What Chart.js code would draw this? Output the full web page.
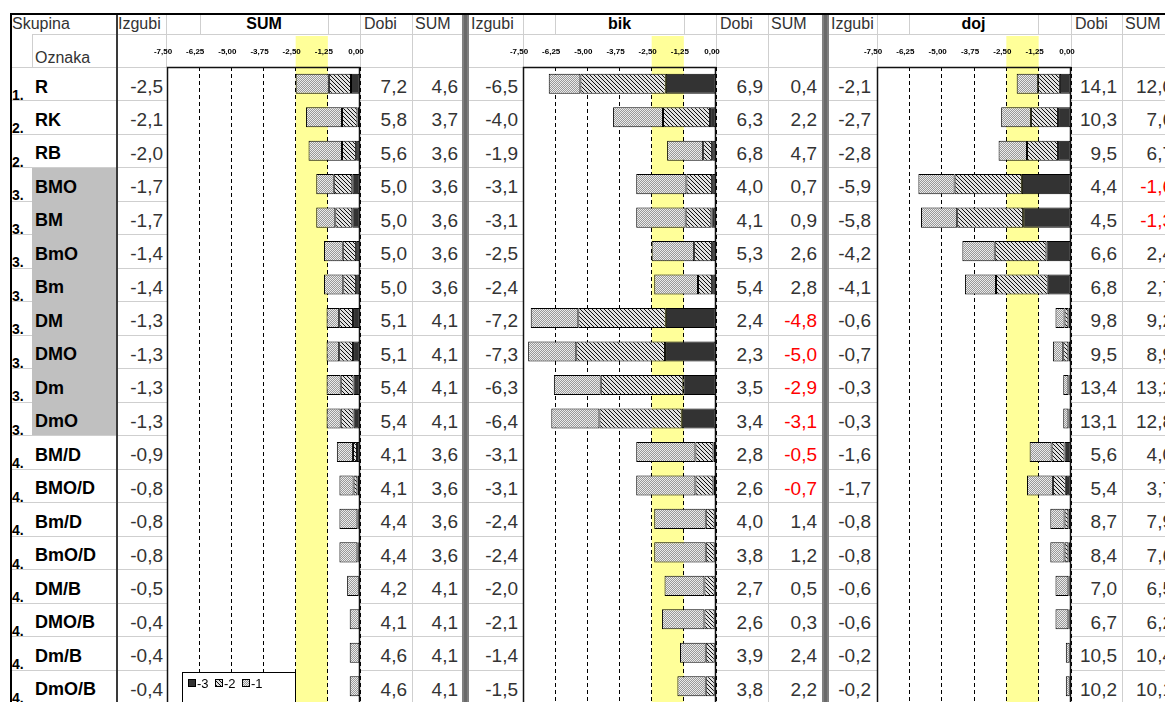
<!DOCTYPE html>
<html>
<head>
<meta charset="utf-8">
<script src="https://cdn.jsdelivr.net/npm/chart.js@4.4.1/dist/chart.umd.min.js"></script>
<style>
body { margin: 0; background: #fff; }
#page { position: relative; width: 1165px; height: 702px; overflow: hidden; font-family: "Liberation Sans", Arial, sans-serif; }
.ln { position: absolute; background: #cfcfcf; }
.t { position: absolute; white-space: nowrap; line-height: 1; color: #333; }
.box { position: absolute; }
</style>
</head>
<body>
<div id="page"></div>
<script>
// ---- data ----
const groups = ['1.','2.','2.','3.','3.','3.','3.','3.','3.','3.','3.','4.','4.','4.','4.','4.','4.','4.','4.'];
const labels = ['R','RK','RB','BMO','BM','BmO','Bm','DM','DMO','Dm','DmO','BM/D','BMO/D','Bm/D','BmO/D','DM/B','DMO/B','Dm/B','DmO/B'];
const panelTitles = ['SUM', 'bik', 'doj'];
const legendLabels = ['-3', '-2', '-1'];
const tickLabels = ['-7,50','-6,25','-5,00','-3,75','-2,50','-1,25','0,00'];
const bandFrom = -2.5;
const bandTo = -1.25;

// SUM
const sumIzgubi = [-2.5,-2.1,-2.0,-1.7,-1.7,-1.4,-1.4,-1.3,-1.3,-1.3,-1.3,-0.9,-0.8,-0.8,-0.8,-0.5,-0.4,-0.4,-0.4];
const sumDobi   = [7.2,5.8,5.6,5.0,5.0,5.0,5.0,5.1,5.1,5.4,5.4,4.1,4.1,4.4,4.4,4.2,4.1,4.6,4.6];
const sumSum    = [4.6,3.7,3.6,3.6,3.6,3.6,3.6,4.1,4.1,4.1,4.1,3.6,3.6,3.6,3.6,4.1,4.1,4.1,4.1];
const sumL3 = [-0.35,-0.1,-0.15,-0.3,-0.3,-0.15,-0.15,-0.27,-0.27,-0.25,-0.25,-0.12,-0.1,-0.05,-0.05,-0.02,-0.01,-0.01,-0.01];
const sumL2 = [-0.86,-0.6,-0.55,-0.72,-0.66,-0.52,-0.5,-0.54,-0.54,-0.5,-0.5,-0.15,-0.15,-0.05,-0.05,-0.03,-0.01,-0.01,-0.01];
const sumL1 = [-1.29,-1.4,-1.3,-0.68,-0.74,-0.73,-0.75,-0.49,-0.49,-0.55,-0.55,-0.63,-0.55,-0.7,-0.7,-0.45,-0.38,-0.38,-0.38];

// bik
const bikIzgubi = [-6.5,-4.0,-1.9,-3.1,-3.1,-2.5,-2.4,-7.2,-7.3,-6.3,-6.4,-3.1,-3.1,-2.4,-2.4,-2.0,-2.1,-1.4,-1.5];
const bikDobi   = [6.9,6.3,6.8,4.0,4.1,5.3,5.4,2.4,2.3,3.5,3.4,2.8,2.6,4.0,3.8,2.7,2.6,3.9,3.8];
const bikSum    = [0.4,2.2,4.7,0.7,0.9,2.6,2.8,-4.8,-5.0,-2.9,-3.1,-0.5,-0.7,1.4,1.2,0.5,0.3,2.4,2.2];
const bikL3 = [-1.95,-0.23,-0.15,-0.15,-0.18,-0.15,-0.15,-1.95,-1.98,-1.27,-1.33,-0.1,-0.1,-0.05,-0.05,-0.05,-0.05,-0.05,-0.05];
const bikL2 = [-3.32,-1.83,-0.35,-1.0,-1.0,-0.7,-0.55,-3.4,-3.45,-3.21,-3.2,-0.7,-0.7,-0.35,-0.35,-0.4,-0.4,-0.35,-0.35];
const bikL1 = [-1.23,-1.94,-1.4,-1.95,-1.92,-1.65,-1.7,-1.85,-1.87,-1.82,-1.87,-2.3,-2.3,-2.0,-2.0,-1.55,-1.65,-1.0,-1.1];

// doj
const dojIzgubi = [-2.1,-2.7,-2.8,-5.9,-5.8,-4.2,-4.1,-0.6,-0.7,-0.3,-0.3,-1.6,-1.7,-0.8,-0.8,-0.6,-0.6,-0.2,-0.2];
const dojDobi   = [14.1,10.3,9.5,4.4,4.5,6.6,6.8,9.8,9.5,13.4,13.1,5.6,5.4,8.7,8.4,7.0,6.7,10.5,10.2];
const dojSum    = [12.0,7.6,6.7,-1.6,-1.3,2.4,2.7,9.2,8.9,13.2,12.8,4.0,3.7,7.9,7.6,6.5,6.2,10.4,10.1];
const dojL3 = [-0.43,-0.5,-0.5,-1.9,-1.85,-0.95,-0.9,-0.1,-0.1,-0.05,-0.05,-0.25,-0.2,-0.1,-0.1,-0.05,-0.05,-0.02,-0.02];
const dojL2 = [-0.84,-1.05,-1.2,-2.6,-2.55,-2.0,-2.0,-0.15,-0.2,-0.05,-0.05,-0.5,-0.5,-0.15,-0.15,-0.05,-0.05,-0.03,-0.03];
const dojL1 = [-0.83,-1.15,-1.1,-1.4,-1.4,-1.25,-1.2,-0.35,-0.4,-0.2,-0.2,-0.85,-1.0,-0.55,-0.55,-0.5,-0.5,-0.15,-0.15];

// ---- layout ----
const page = document.getElementById('page');
const TOP = 67;
const RH = 636 / 19;
const W = 1165, H = 702;

const panels = [
    { title: panelTitles[0], izg: sumIzgubi, dobi: sumDobi, sum: sumSum, l3: sumL3, l2: sumL2, l1: sumL1,
      chL: 167, chR: 360, izR: 163, dobR: 412, sumR: 463, hdr: [166, 200, 328, 360], legend: true },
    { title: panelTitles[1], izg: bikIzgubi, dobi: bikDobi, sum: bikSum, l3: bikL3, l2: bikL2, l1: bikL1,
      chL: 523, chR: 716, izR: 518, dobR: 768, sumR: 822, hdr: [523, 555, 684, 716] },
    { title: panelTitles[2], izg: dojIzgubi, dobi: dojDobi, sum: dojSum, l3: dojL3, l2: dojL2, l1: dojL1,
      chL: 877, chR: 1071, izR: 871, dobR: 1122, sumR: 1178, hdr: [877, 909, 1038, 1071] }
];
const izgL = [116, 469, 829];
const seps = [462, 822];

function box(x, y, w, h, color, cls) {
    const d = document.createElement('div');
    d.className = cls || 'box';
    d.style.left = x + 'px'; d.style.top = y + 'px';
    d.style.width = w + 'px'; d.style.height = h + 'px';
    if (color) d.style.background = color;
    page.appendChild(d);
    return d;
}
function txt(x, y, s, css, rightW) {
    const d = document.createElement('div');
    d.className = 't';
    d.style.top = y + 'px';
    if (rightW) { d.style.left = (x - rightW) + 'px'; d.style.width = rightW + 'px'; d.style.textAlign = 'right'; }
    else d.style.left = x + 'px';
    d.textContent = s;
    Object.assign(d.style, css || {});
    page.appendChild(d);
    return d;
}
const fmt = v => v.toFixed(1).replace('.', ',');

// horizontal light lines
box(32, 34, W - 32, 1, null, 'ln');
for (let i = 0; i <= 19; i++) {
    box(12, Math.round(TOP + i * RH), W - 12, 1, null, 'ln');
}
// gray label cells for group 3
const g3 = groups.map((g, i) => g === '3.' ? i : -1).filter(i => i >= 0);
box(32, TOP + g3[0] * RH + 1, 84, (g3[g3.length - 1] - g3[0] + 1) * RH - 1, '#c0c0c0');

// vertical lines
box(32, 34, 1, 33, null, 'ln');
panels.forEach((p, k) => {
    box(p.hdr[0], 14, 1, 53, null, 'ln');
    box(p.hdr[1], 14, 1, 20, null, 'ln');
    box(p.hdr[2], 14, 1, 20, null, 'ln');
    box(p.hdr[3], 14, 1, 53, null, 'ln');
    box(p.dobR, 14, 1, H, null, 'ln');
});
seps.forEach(x => { box(x, 14, 7, H, '#808080'); box(x + 2, 14, 3, H, '#6a6a6a'); });
box(116, 14, 2, H, '#3a3a3a');
box(10, 13, 2, H, '#000');
box(10, 13, W, 2, '#000');

// header text
txt(12, 16, 'Skupina', { fontSize: '16px' });
txt(35, 49.5, 'Oznaka', { fontSize: '16px' });
panels.forEach((p, k) => {
    txt(izgL[k] + 2, 16, 'Izgubi', { fontSize: '16px' });
    const t = txt(p.hdr[1], 16, p.title, { fontSize: '16px', fontWeight: 'bold', color: '#000', textAlign: 'center' });
    t.style.width = (p.hdr[2] - p.hdr[1]) + 'px';
    txt(p.hdr[3] + 4, 16, 'Dobi', { fontSize: '16px' });
    txt(p.dobR + 3, 16, 'SUM', { fontSize: '16px' });
});

// rows
labels.forEach((lab, i) => {
    const y0 = TOP + i * RH;
    txt(12, y0 + 21, groups[i], { fontSize: '14px', fontWeight: 'bold', color: '#000' });
    txt(35, y0 + 10.5, lab, { fontSize: '18px', fontWeight: 'bold', color: '#000' });
    panels.forEach(p => {
        txt(p.izR, y0 + 10, fmt(p.izg[i]), { fontSize: '19px' }, 60);
        txt(p.dobR - 5, y0 + 10, fmt(p.dobi[i]), { fontSize: '19px' }, 50);
        txt(p.sumR - 5, y0 + 10, fmt(p.sum[i]), { fontSize: '19px', color: p.sum[i] < 0 ? '#ff0000' : '#333' }, 55);
    });
});

// ---- patterns ----
function makePattern(size, draw) {
    const c = document.createElement('canvas');
    c.width = size; c.height = size;
    draw(c.getContext('2d'));
    return c.getContext('2d').createPattern(c, 'repeat');
}
const darkFill = '#333333';
const hatchFill = makePattern(4, g => {
    g.fillStyle = '#e0e0e0'; g.fillRect(0, 0, 4, 4);
    g.fillStyle = '#111';
    for (let i = 0; i < 4; i++) g.fillRect(i, i, 1, 1);
});
const dotFill = makePattern(2, g => {
    g.fillStyle = '#ebebeb'; g.fillRect(0, 0, 2, 2);
    g.fillStyle = '#999';
    g.fillRect(0, 0, 1, 1); g.fillRect(1, 1, 1, 1);
});
const fills = [darkFill, hatchFill, dotFill];

// ---- plugins ----
const bandPlugin = {
    id: 'band',
    beforeDraw(chart) {
        const { ctx, chartArea: a, scales: { x } } = chart;
        ctx.save();
        ctx.fillStyle = '#fff';
        ctx.fillRect(a.left, a.top, a.right - a.left, a.bottom - a.top);
        const x1 = x.getPixelForValue(bandFrom), x2 = x.getPixelForValue(bandTo);
        ctx.fillStyle = '#ffff99';
        ctx.fillRect(x1, 1, x2 - x1, a.bottom);
        ctx.restore();
    },
    afterDatasetsDraw(chart) {
        const { ctx, chartArea: a } = chart;
        ctx.save();
        ctx.strokeStyle = '#111';
        ctx.lineWidth = 1.5;
        ctx.strokeRect(a.left + 0.5, a.top + 0.5, a.right - a.left - 1, a.bottom - a.top + 10);
        ctx.restore();
    }
};

const legendPlugin = {
    id: 'boxLegend',
    afterDraw(chart) {
        if (!chart.options.plugins.boxLegend.show) return;
        const { ctx, chartArea: a } = chart;
        const bx = a.left + 15, by = a.bottom - 31;
        ctx.save();
        ctx.fillStyle = '#fff';
        ctx.fillRect(bx, by, 113, 40);
        ctx.strokeStyle = '#000';
        ctx.lineWidth = 1;
        ctx.strokeRect(bx + 0.5, by + 0.5, 113, 40);
        ctx.font = '13px "Liberation Sans", Arial, sans-serif';
        ctx.textBaseline = 'middle';
        let x = bx + 6;
        chart.data.datasets.forEach(ds => {
            ctx.fillStyle = ds.backgroundColor;
            ctx.fillRect(x, by + 7, 8, 8);
            ctx.strokeRect(x + 0.5, by + 7.5, 7, 7);
            ctx.fillStyle = '#000';
            ctx.fillText(ds.label, x + 9, by + 12);
            x += 27;
        });
        ctx.restore();
    }
};

// ---- charts ----
panels.forEach(p => {
    const wrap = document.createElement('div');
    wrap.className = 'box';
    wrap.style.left = (p.chL - 21) + 'px';
    wrap.style.top = '35px';
    wrap.style.width = (p.chR - p.chL + 27) + 'px';
    wrap.style.height = '668px';
    const cv = document.createElement('canvas');
    wrap.appendChild(cv);
    page.appendChild(wrap);

    new Chart(cv, {
        type: 'bar',
        data: {
            labels: labels,
            datasets: [p.l3, p.l2, p.l1].map((d, j) => ({
                label: legendLabels[j],
                data: d,
                backgroundColor: fills[j],
                borderColor: '#000',
                borderWidth: 1,
                borderSkipped: false,
                barPercentage: 0.6,
                categoryPercentage: 1
            }))
        },
        options: {
            indexAxis: 'y',
            responsive: true,
            maintainAspectRatio: false,
            animation: false,
            layout: { padding: { left: 21, right: 6, top: 0, bottom: 0 } },
            plugins: {
                legend: { display: false },
                tooltip: { enabled: false },
                boxLegend: { show: !!p.legend }
            },
            scales: {
                x: {
                    position: 'top',
                    stacked: true,
                    min: -7.5,
                    max: 0,
                    afterBuildTicks: s => { s.ticks = tickLabels.map(t => ({ value: parseFloat(t.replace(',', '.')) })); },
                    afterFit: s => { s.height = 32; s.paddingLeft = 0; s.paddingRight = 0; },
                    ticks: {
                        autoSkip: false,
                        maxRotation: 0,
                        padding: 10,
                        labelOffset: -4,
                        color: '#000',
                        font: { size: 8, weight: 'bold', family: '"Liberation Sans", Arial, sans-serif' },
                        callback: (v, i) => tickLabels[i]
                    },
                    grid: { color: '#000', lineWidth: 1, drawTicks: false },
                    border: { display: false, dash: [4, 3] }
                },
                y: { stacked: true, display: false }
            }
        },
        plugins: [bandPlugin, legendPlugin]
    });
});
</script>
</body>
</html>
